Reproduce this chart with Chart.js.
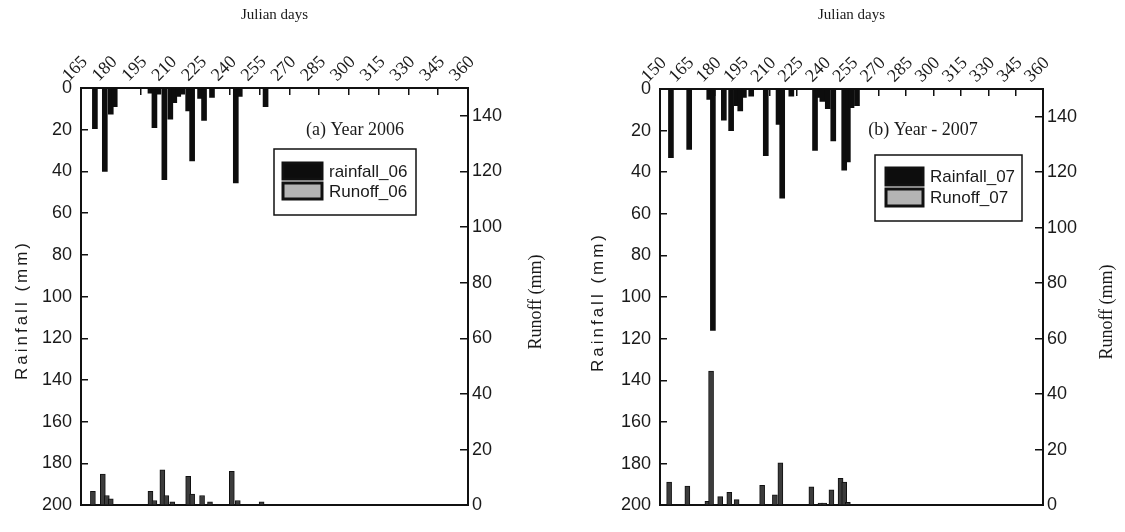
<!DOCTYPE html>
<html>
<head>
<meta charset="utf-8">
<script src="https://cdn.jsdelivr.net/npm/chart.js@4.4.0/dist/chart.umd.min.js"></script>
<style>
  html, body { margin: 0; padding: 0; background: #fff; }
  #wrap { position: relative; width: 1125px; height: 532px; }
  .panel { position: absolute; top: 0; height: 532px; }
  #pa { left: 0; width: 562px; }
  #pb { left: 562px; width: 563px; }
</style>
</head>
<body>
<div id="wrap">
  <div class="panel" id="pa"><canvas id="chartA"></canvas></div>
  <div class="panel" id="pb"><canvas id="chartB"></canvas></div>
</div>
<script>
// 2006 (panel a)
const rainDays06 = [172, 177, 180, 182, 200, 202, 204, 207, 210, 212, 214, 216, 219, 221, 225, 227, 231, 243, 245, 258];
const rain06     = [19.5, 40, 12.5, 9, 2.5, 19, 3, 44, 15, 7, 4, 3, 11, 35, 5, 15.5, 4.5, 45.5, 4, 9];
const runDays06  = [171, 176, 178, 180, 200, 202, 206, 208, 211, 219, 221, 226, 230, 241, 244, 256];
const run06      = [5, 11.2, 3.5, 2.3, 5, 1.7, 12.7, 3.5, 1.2, 10.4, 4, 3.5, 1.2, 12.2, 1.7, 1.2];

// 2007 (panel b)
const rainDays07 = [156, 166, 177, 179, 185, 189, 192, 194, 196, 200, 208, 215, 217, 222, 235, 237, 239, 242, 245, 251, 253, 255, 258];
const rain07     = [33, 29, 5, 116, 15, 20, 8, 10.5, 4, 3.5, 32, 17, 52.5, 3.5, 29.5, 4, 6, 9.5, 25, 39, 35, 9, 8];
const runDays07  = [155, 165, 176, 178, 183, 188, 192, 206, 213, 216, 233, 238, 240, 244, 249, 251, 253];
const run07      = [8.3, 6.9, 1.4, 48.3, 3.1, 4.6, 2, 7.2, 3.7, 15.3, 6.6, 0.8, 0.8, 5.5, 9.7, 8.3, 1];

// tick labels
const dayTicks06 = [165, 180, 195, 210, 225, 240, 255, 270, 285, 300, 315, 330, 345, 360];
const dayTicks07 = [150, 165, 180, 195, 210, 225, 240, 255, 270, 285, 300, 315, 330, 345, 360];
const rainTicks  = [0, 20, 40, 60, 80, 100, 120, 140, 160, 180, 200];
const runTicks   = [0, 20, 40, 60, 80, 100, 120, 140];

const INK = "#1a1a1a";

// titles, panel note and boxed legend drawn on top of the chart
const panelDecor = {
  id: "panelDecor",
  afterDraw(chart, args, o) {
    const ctx = chart.ctx;
    ctx.save();
    ctx.fillStyle = INK;
    o.sideTitles.forEach((t) => {
      ctx.save();
      ctx.translate(t.x, t.y);
      ctx.rotate(-Math.PI / 2);
      ctx.font = t.font;
      ctx.letterSpacing = t.spacing || "0px";
      ctx.textAlign = "center";
      ctx.textBaseline = "middle";
      ctx.fillText(t.text, 0, 0);
      ctx.restore();
    });

    ctx.font = '18px "Liberation Serif"';
    ctx.textAlign = "center";
    ctx.textBaseline = "middle";
    ctx.fillText(o.note.text, o.note.x, o.note.y);

    const L = o.legend;
    ctx.strokeStyle = "#111";
    ctx.lineWidth = 1.5;
    ctx.strokeRect(L.x, L.y, L.w, L.h);
    chart.data.datasets.forEach((ds, i) => {
      const sx = L.x + L.pad;
      const sy = L.y + L.top + i * L.row;
      ctx.fillStyle = L.swatch[i];
      ctx.fillRect(sx, sy, L.sw, L.sh);
      ctx.lineWidth = 3;
      ctx.strokeRect(sx, sy, L.sw, L.sh);
      ctx.fillStyle = INK;
      ctx.font = '17px "Liberation Sans"';
      ctx.textAlign = "left";
      ctx.fillText(ds.label, sx + L.sw + 7, sy + L.sh / 2 + 1);
    });
    ctx.restore();
  }
};

function toPoints(days, vals) {
  return days.map((d, i) => ({ x: d, y: vals[i] }));
}

function makeChart(canvasId, p) {
  const ctx = document.getElementById(canvasId).getContext("2d");
  const frame = { display: true, color: "#111", width: 2 };
  const fixW = (w) => (s) => { s.width = w; };
  const fixH = (h) => (s) => { s.height = h; };

  return new Chart(ctx, {
    type: "bar",
    data: {
      datasets: [
        {
          label: p.rainLabel,
          data: toPoints(p.rainDays, p.rain),
          xAxisID: "x",
          yAxisID: "y",
          backgroundColor: "#0d0d0d",
          borderWidth: 0,
          barThickness: 5,
          grouped: false
        },
        {
          label: p.runLabel,
          data: toPoints(p.runDays, p.run),
          xAxisID: "x",
          yAxisID: "y1",
          backgroundColor: "#3c3c3c",
          borderColor: "#111",
          borderWidth: 1,
          barThickness: 5,
          grouped: false
        }
      ]
    },
    plugins: [panelDecor],
    options: {
      responsive: true,
      maintainAspectRatio: false,
      animation: false,
      layout: { padding: 0 },
      plugins: {
        legend: { display: false },
        tooltip: { enabled: false },
        panelDecor: p.decor
      },
      scales: {
        x: {
          type: "linear",
          position: "top",
          min: p.dayTicks[0],
          max: 360,
          offset: false,
          afterBuildTicks: (s) => { s.ticks = p.dayTicks.map((v) => ({ value: v })); },
          afterFit: fixH(p.top),
          grid: { drawOnChartArea: false, offset: false, tickLength: -7, color: "#111", lineWidth: 1.5 },
          border: frame,
          ticks: {
            autoSkip: false,
            minRotation: 45,
            maxRotation: 45,
            padding: 9,
            color: INK,
            font: { family: "Liberation Serif", size: 18 }
          },
          title: {
            display: true,
            text: "Julian days",
            color: INK,
            font: { family: "Liberation Serif", size: 15 },
            padding: { top: 6, bottom: 0 }
          }
        },
        x2: {
          type: "linear",
          position: "bottom",
          min: p.dayTicks[0],
          max: 360,
          offset: false,
          afterFit: fixH(p.bottom),
          grid: { drawOnChartArea: false, drawTicks: false },
          border: frame,
          ticks: { display: false }
        },
        y: {
          position: "left",
          reverse: true,
          min: 0,
          max: 200,
          afterBuildTicks: (s) => { s.ticks = rainTicks.map((v) => ({ value: v })); },
          afterFit: fixW(p.left),
          grid: { drawOnChartArea: false, tickLength: -7, color: "#111", lineWidth: 1.5 },
          border: frame,
          ticks: { padding: 16, color: INK, font: { family: "Liberation Sans", size: 18 } }
        },
        y1: {
          position: "right",
          min: 0,
          max: 150,
          afterBuildTicks: (s) => { s.ticks = runTicks.map((v) => ({ value: v })); },
          afterFit: fixW(p.right),
          grid: { drawOnChartArea: false, tickLength: -8, color: "#111", lineWidth: 1.5 },
          border: frame,
          ticks: { padding: 12, color: INK, font: { family: "Liberation Sans", size: 18 } }
        }
      }
    }
  });
}

makeChart("chartA", {
  rainLabel: "rainfall_06",
  runLabel: "Runoff_06",
  rainDays: rainDays06, rain: rain06,
  runDays: runDays06, run: run06,
  dayTicks: dayTicks06,
  left: 81, right: 94, top: 88, bottom: 12,
  decor: {
    sideTitles: [
      { text: "Rainfall (mm)", x: 22, y: 310, font: '17px "Liberation Sans"', spacing: "3px" },
      { text: "Runoff (mm)", x: 536, y: 302, font: '18px "Liberation Serif"' }
    ],
    note: { text: "(a) Year 2006", x: 355, y: 130 },
    legend: { x: 274, y: 149, w: 142, h: 66, pad: 9, top: 14, row: 20, sw: 39, sh: 16, swatch: ["#0d0d0d", "#b4b4b4"] }
  }
});

makeChart("chartB", {
  rainLabel: "Rainfall_07",
  runLabel: "Runoff_07",
  rainDays: rainDays07, rain: rain07,
  runDays: runDays07, run: run07,
  dayTicks: dayTicks07,
  left: 98, right: 82, top: 89, bottom: 12,
  decor: {
    sideTitles: [
      { text: "Rainfall (mm)", x: 36, y: 302, font: '17px "Liberation Sans"', spacing: "3px" },
      { text: "Runoff (mm)", x: 545, y: 312, font: '18px "Liberation Serif"' }
    ],
    note: { text: "(b) Year - 2007", x: 361, y: 130 },
    legend: { x: 313, y: 155, w: 147, h: 66, pad: 11, top: 13, row: 21, sw: 37, sh: 17, swatch: ["#0d0d0d", "#b4b4b4"] }
  }
});
</script>
</body>
</html>
